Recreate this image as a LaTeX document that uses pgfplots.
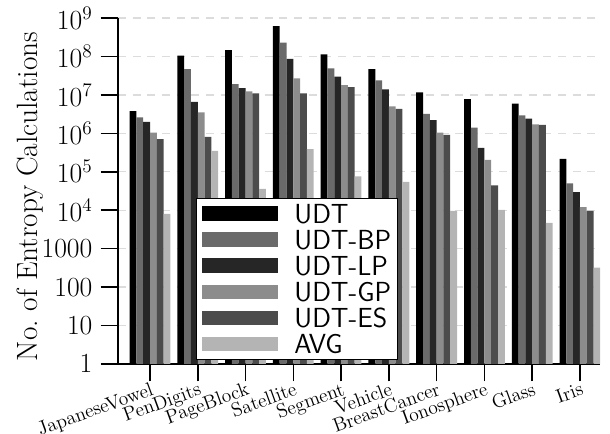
\documentclass[border=0pt]{standalone}
\usepackage{fontspec}
\usepackage{pgfplots}
\pgfplotsset{compat=1.18}
\usepackage{pgfplotstable}
\definecolor{cUDT}{HTML}{000000}
\definecolor{cBP}{HTML}{6A6A6A}
\definecolor{cLP}{HTML}{262626}
\definecolor{cGP}{HTML}{8C8C8C}
\definecolor{cES}{HTML}{4C4C4C}
\definecolor{cAVG}{HTML}{B4B4B4}
\definecolor{cGrid}{HTML}{DCDCDC}

\pgfplotstableread{
x udt bp lp gp es avg
0 3.8e6 2.6e6 2.0e6 1.04e6 7.1e5 8000
1 1.05e8 4.7e7 6.6e6 3.5e6 8.1e5 3.5e5
2 1.45e8 1.9e7 1.5e7 1.24e7 1.1e7 3.6e4
3 6.1e8 2.3e8 8.7e7 2.7e7 1.1e7 3.9e5
4 1.14e8 4.9e7 3.0e7 1.8e7 1.6e7 7.6e4
5 4.7e7 2.4e7 1.4e7 5.0e6 4.3e6 5.5e4
6 1.17e7 3.2e6 2.2e6 1.04e6 9.1e5 9600
7 7.8e6 1.4e6 4.2e5 2.05e5 4.4e4 1.02e4
8 5.9e6 2.95e6 2.4e6 1.7e6 1.66e6 4700
9 2.15e5 5.0e4 2.97e4 1.2e4 9600 320
}\data

\pgfplotsset{mybarlegend/.style={legend image code/.code={\fill[##1] (0pt,-5.5pt) rectangle (57pt,5.5pt);}}}

\begin{document}
\begin{tikzpicture}
\begin{axis}[
  at={(0,0)}, anchor=south west,
  scale only axis, width=361.5pt, height=259.5pt,
  ymode=log, ymin=1, ymax=1e9, xmin=-0.67, xmax=9.42,
  ybar=0pt, bar width=5.1pt,
  axis x line*=bottom, axis y line*=left,
  axis line style={black, line width=1.1pt},
  tick style={black, line width=1.1pt},
  major tick length=13pt, tick align=outside,
  yminorticks=false,
  xtick={0,1,2,3,4,5,6,7,8,9},
  xticklabels={JapaneseVowel,PenDigits,PageBlock,Satellite,Segment,Vehicle,BreastCancer,Ionosphere,Glass,Iris},
  xticklabel style={rotate=20, anchor=north east, inner sep=0pt, font=\fontsize{14.6}{16}\selectfont},
  ytick={1,10,100,1000,1e4,1e5,1e6,1e7,1e8,1e9},
  yticklabels={$1$,$10$,$100$,$1000$,$10^4$,$10^5$,$10^6$,$10^7$,$10^8$,$10^9$},
  yticklabel style={font=\fontsize{20.8}{24}\selectfont, inner sep=0pt, anchor=east, xshift=-6pt},
  ymajorgrids, major grid style={cGrid, line width=1pt, dash pattern=on 6pt off 5pt},
  ylabel={No.\ of Entropy Calculations},
  ylabel style={at={(axis description cs:-0.154,0.484)}, anchor=south, inner sep=0pt, font=\fontsize{22}{26}\selectfont},
  legend cell align=left,
  legend style={at={(rel axis cs:0.1618,0.0116)}, anchor=south west, draw=black, line width=0.75pt, fill=white,
    font=\sffamily\fontsize{20.7}{24}\selectfont, inner xsep=4.5pt, inner ysep=4.3pt, row sep=5.2pt, column sep=12pt,
    nodes={inner sep=0pt, text height=14.4pt, text depth=0pt}},
]
\addplot[fill=cUDT, draw=none, mybarlegend] table[x=x, y=udt] {\data};
\addplot[fill=cBP, draw=none, mybarlegend] table[x=x, y=bp] {\data};
\addplot[fill=cLP, draw=none, mybarlegend] table[x=x, y=lp] {\data};
\addplot[fill=cGP, draw=none, mybarlegend] table[x=x, y=gp] {\data};
\addplot[fill=cES, draw=none, mybarlegend] table[x=x, y=es] {\data};
\addplot[fill=cAVG, draw=none, mybarlegend] table[x=x, y=avg] {\data};
\legend{UDT,UDT-BP,UDT-LP,UDT-GP,UDT-ES,AVG}
\end{axis}
\pgfresetboundingbox
\path[use as bounding box] (-88.5pt,-52.5pt) rectangle (369pt,273pt);
\end{tikzpicture}
\end{document}
